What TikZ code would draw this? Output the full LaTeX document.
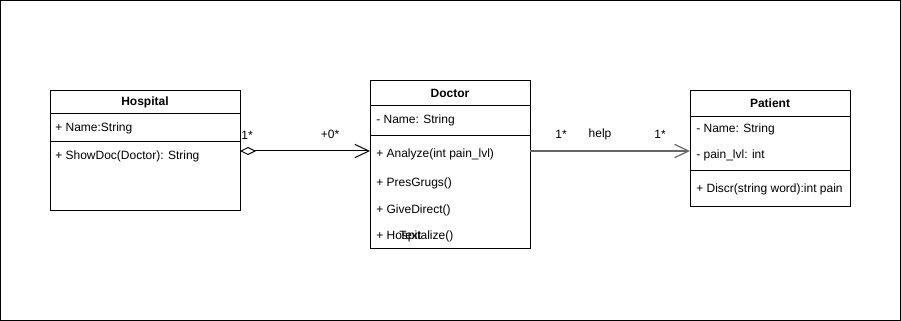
\documentclass[tikz,border=0pt]{standalone}
\usepackage{fontspec}
\setmainfont{Liberation Sans}
\usetikzlibrary{arrows.meta}
\begin{document}
\begin{tikzpicture}[x=0.75pt,y=-0.75pt,
  classbox/.style={draw=black,line width=0.75pt,fill=white,rectangle,anchor=north west,inner sep=0pt},
  title/.style={font=\fontsize{9}{11}\selectfont\bfseries,anchor=center},
  member/.style={font=\fontsize{9}{11}\selectfont,anchor=west,inner sep=0pt},
  rel/.style={font=\fontsize{9}{11}\selectfont,anchor=center,inner sep=0pt},
  sep/.style={draw=black,line width=0.75pt},
  openarrow/.style={-{Straight Barb[length=10.5pt,width=10pt,line width=0.9pt]}},
  aggregation/.style={{Diamond[open,length=12pt,width=6pt,line width=0.75pt]}-{Straight Barb[length=10.5pt,width=10pt,line width=0.75pt]}}
]
\useasboundingbox (0,0) rectangle (901,321);
\draw[line width=0.75pt] (0.5,0.5) rectangle (900.5,320.5);

% Hospital class
\node[classbox,minimum width=190*0.75pt,minimum height=120*0.75pt] (hosp) at (50,90) {};
\node[title] (hospT) at (145,102) {Hospital};
\draw[sep] (50,114) -- (240,114);
\node[member] (hospA) at (55,128) {+ Name:String};
\draw[sep] (50,142) -- (240,142);
\node[member] (hospM) at (55,156) {+ ShowDoc(Doctor): String};

% Doctor class
\node[classbox,minimum width=160*0.75pt,minimum height=168*0.75pt] (doc) at (370,80) {};
\node[title] (docT) at (450,93) {Doctor};
\draw[sep] (370,106) -- (530,106);
\node[member] (docA) at (376,120) {- Name: String};
\draw[sep] (370,136) -- (530,136);
\node[member] (docM1) at (376,154) {+ Analyze(int pain\_lvl)};
\node[member] (docM2) at (376,183) {+ PresGrugs()};
\node[member] (docM3) at (376,210) {+ GiveDirect()};
\node[member] (docM4) at (376,236) {+ Hospitalize()};
\node[member] (docTxt) at (399,235) {Text};

% Patient class
\node[classbox,minimum width=160*0.75pt,minimum height=116*0.75pt] (pat) at (690,90) {};
\node[title] (patT) at (770,103) {Patient};
\draw[sep] (690,117) -- (850,117);
\node[member] (patA1) at (696,129) {- Name: String};
\node[member] (patA2) at (696,155) {- pain\_lvl: int};
\draw[sep] (690,171) -- (850,171);
\node[member] (patM) at (696,189) {+ Discr(string word):int pain};

% Hospital aggregates Doctor
\coordinate (hospR) at (240,151);
\coordinate (docL) at (370,151);
\draw[aggregation,line width=0.75pt] (hospR) -- (docL);
\node[rel] (m1) at (247,135) {1*};
\node[rel] (m2) at (330,134) {+0*};

% Doctor helps Patient
\coordinate (docR) at (530,151);
\coordinate (patL) at (690,151);
\draw[openarrow,draw=black!60,line width=1.3pt] (docR) -- (patL);
\node[rel] (m3) at (561,134) {1*};
\node[rel] (lbl) at (600,134) {help};
\node[rel] (m4) at (660,134) {1*};
\end{tikzpicture}
\end{document}
